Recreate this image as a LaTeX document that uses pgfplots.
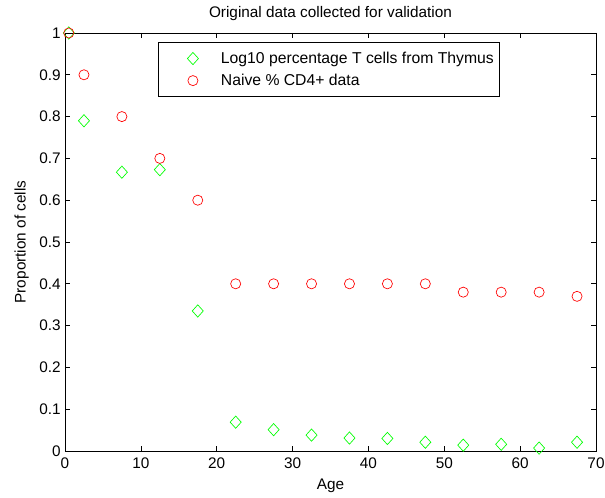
\documentclass[border=0pt]{standalone}
\usepackage{fontspec}
\setmainfont{Liberation Sans}
\usepackage{pgfplots}
\pgfplotsset{compat=1.18}
\pgfplotsset{markleg/.style={legend image code/.code={\path[draw=none] (0pt,0pt) -- (43pt,0pt);
    \draw[##1] plot coordinates {(24pt,0pt)};}}}

\begin{document}
\begin{tikzpicture}
\useasboundingbox (-48.75pt,-35.25pt) rectangle (405pt,338.25pt);
\begin{axis}[
    scale only axis,
    width=398.25pt, height=313.5pt,
    at={(0,0)}, anchor=south west,
    xmin=0, xmax=70, ymin=0, ymax=1,
    xtick={0,10,...,70},
    ytick={0,0.1,...,1},
    tick align=inside,
    major tick length=3.75pt,
    axis line style={line width=0.6pt},
    every tick/.style={black, line width=0.5pt},
    font=\fontsize{11.5}{13.5}\selectfont,
    /pgf/number format/assume math mode=true,
    xticklabel style={anchor=base, yshift=-13.5pt},
    yticklabel style={anchor=east, inner sep=0pt, xshift=-3pt},
    title={Original data collected for validation},
    title style={at={(axis description cs:0.5,1)}, anchor=base, yshift=5.25pt},
    xlabel={Age},
    xlabel style={at={(axis description cs:0.5,0)}, anchor=base, yshift=-29.25pt},
    ylabel={Proportion of cells},
    ylabel style={at={(axis description cs:0,0.5)}, anchor=base, yshift=29.6pt},
    legend style={at={(rel axis cs:0.175,0.978)}, anchor=north west,
        draw=black, line width=0.5pt, inner xsep=2pt, inner ysep=5pt,
        row sep=2.5pt, font=\fontsize{11.8}{13.8}\selectfont},
    legend cell align=left,
]
% green diamonds: Log10 percentage T cells from Thymus
\addplot[only marks, markleg, color={rgb,255:red,0;green,255;blue,0}, mark=diamond,
    mark size=4.6pt, mark options={line width=0.5pt, xscale=1.2}] coordinates {
    (0.5,1.0) (2.5,0.79) (7.5,0.667) (12.5,0.673) (17.5,0.335)
    (22.5,0.069) (27.5,0.051) (32.5,0.038) (37.5,0.031) (42.5,0.030)
    (47.5,0.021) (52.5,0.014) (57.5,0.016) (62.5,0.007) (67.5,0.021)
};
\addlegendentry{\makebox[205pt][l]{Log10 percentage T cells from Thymus}}
% red circles: Naive % CD4+ data
\addplot[only marks, markleg, color={rgb,255:red,255;green,0;blue,0}, mark=o,
    mark size=3.8pt, mark options={line width=0.5pt}] coordinates {
    (0.5,1.0) (2.5,0.9) (7.5,0.8) (12.5,0.7) (17.5,0.6)
    (22.5,0.4) (27.5,0.4) (32.5,0.4) (37.5,0.4) (42.5,0.4)
    (47.5,0.4) (52.5,0.38) (57.5,0.38) (62.5,0.38) (67.5,0.37)
};
\addlegendentry{Naive \% CD4+ data}
\end{axis}
\end{tikzpicture}
\end{document}
